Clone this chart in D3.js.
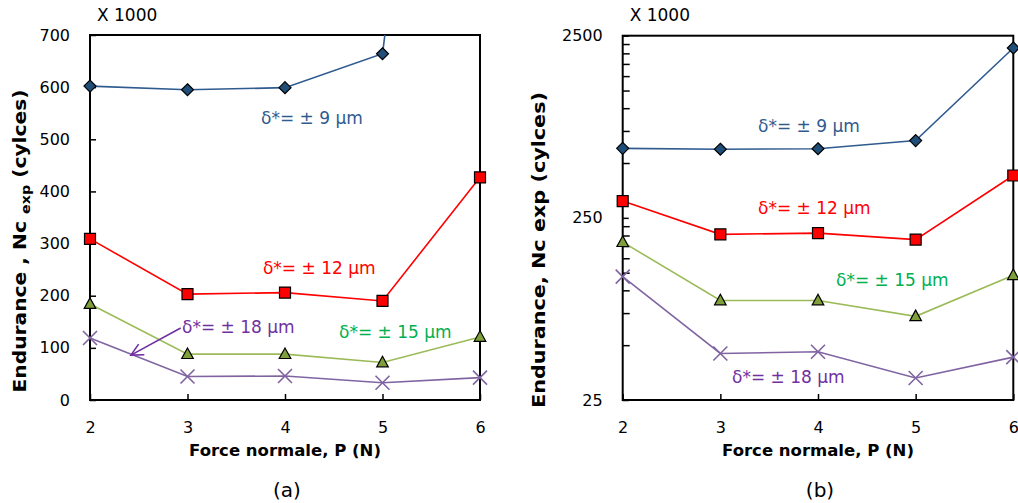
<!DOCTYPE html>
<html><head><meta charset="utf-8">
<script src="https://cdn.jsdelivr.net/npm/d3@7"></script>
<style>
body{margin:0;background:#fff}
svg{display:block}
text{font-family:"DejaVu Sans",sans-serif}
</style>
</head><body>
<svg id="c" width="1018" height="503"></svg>
<script>
// ---- data (x 1000 cycles) ----
const forces = [2, 3, 4, 5, 6];
const nc9  = [602, 595, 599, 664, 2140];
const nc12 = [309, 203, 206, 190, 427];
const nc15 = [184, 88, 88, 72, 121];
const nc18 = [119, 45, 46, 33, 43];
const seriesLabels = ["δ*= ± 9 μm", "δ*= ± 12 μm", "δ*= ± 15 μm", "δ*= ± 18 μm"];
const xTickValues = [2, 3, 4, 5, 6];
const leftTickValues = [0, 100, 200, 300, 400, 500, 600, 700];
const rightTickValues = [25, 250, 2500];
const rightMinorMultipliers = [2, 3, 4, 5, 6, 7, 8, 9];

const svg = d3.select("#c");

const series = [
  {vals: nc9,  line: "#2f5b8f", fill: "#1f4e79", shape: "diamond", text: "#2f5b8f"},
  {vals: nc12, line: "#ff0000", fill: "#ff0000", shape: "square",  text: "#ff0000"},
  {vals: nc15, line: "#9bbb59", fill: "#7f9f3a", shape: "triangle",text: "#00b050"},
  {vals: nc18, line: "#8064a2", fill: "none",    shape: "cross",   text: "#7030a0"}
];

const shapes = {
  diamond: "M0,-6L6,0L0,6L-6,0Z",
  square: "M-5.5,-5.5H5.5V5.5H-5.5Z",
  triangle: "M0,-6.2L5.8,4.4H-5.8Z",
  cross: "M-7,-7L7,7M-7,7L7,-7"
};

svg.append("defs").append("marker")
  .attr("id", "arr").attr("markerUnits", "userSpaceOnUse")
  .attr("viewBox", "-14 -8 16 16").attr("refX", 0).attr("refY", 0)
  .attr("markerWidth", 16).attr("markerHeight", 16).attr("orient", "auto")
  .append("path").attr("d", "M-12,-6L0,0L-12,6")
  .attr("fill", "none").attr("stroke", "#7030a0").attr("stroke-width", 1.6);

function drawChart(cfg) {
  const {x, y, id} = cfg;
  const g = svg.append("g");
  const [x0, x1] = x.range();
  const [yb, yt] = y.range();
  const dom = y.domain();

  g.append("clipPath").attr("id", "clip" + id)
    .append("rect").attr("x", x0 - 10).attr("y", yt).attr("width", x1 - x0 + 20).attr("height", yb - yt);

  // y axis
  const ya = g.append("g").attr("transform", `translate(${x0},0)`)
    .call(d3.axisLeft(y).tickValues(cfg.yTicks).tickFormat(d3.format("d"))
      .tickSizeInner(-6).tickSizeOuter(0).tickPadding(20));
  ya.select(".domain").remove();
  ya.selectAll("line").attr("stroke", "#000").attr("stroke-width", 1.5);
  ya.selectAll("text").attr("font-size", 16).attr("fill", "#000").attr("font-family", "DejaVu Sans");

  if (cfg.minor) {
    const ma = g.append("g").attr("transform", `translate(${x0},0)`)
      .call(d3.axisLeft(y).tickValues(cfg.minor).tickFormat("").tickSizeInner(-7).tickSizeOuter(0));
    ma.select(".domain").remove();
    ma.selectAll("line").attr("stroke", "#000").attr("stroke-width", 1.5);
  }

  // x axis
  const xa = g.append("g").attr("transform", `translate(0,${yb})`)
    .call(d3.axisBottom(x).tickValues(xTickValues).tickFormat(d3.format("d"))
      .tickSizeInner(-6).tickSizeOuter(0).tickPadding(22));
  xa.select(".domain").remove();
  xa.selectAll("line").attr("stroke", "#000").attr("stroke-width", 1.5);
  xa.selectAll("text").attr("font-size", 16).attr("fill", "#000").attr("font-family", "DejaVu Sans");

  // frame
  g.append("rect").attr("x", x0).attr("y", yt).attr("width", x1 - x0).attr("height", yb - yt)
    .attr("fill", "none").attr("stroke", "#000").attr("stroke-width", 2);

  // series
  const line = d3.line().x((d, i) => x(forces[i])).y(d => y(d));
  series.forEach(s => {
    g.append("path").attr("d", line(s.vals)).attr("fill", "none")
      .attr("stroke", s.line).attr("stroke-width", 1.6).attr("clip-path", `url(#clip${id})`);
    g.selectAll(null).data(s.vals.map((v, i) => ({v, f: forces[i]})).filter(d => d.v >= dom[0] && d.v <= dom[1]))
      .join("path")
      .attr("transform", d => `translate(${x(d.f)},${y(d.v)})`)
      .attr("d", shapes[s.shape])
      .attr("fill", s.fill)
      .attr("stroke", s.shape === "cross" ? s.line : "#000")
      .attr("stroke-width", s.shape === "cross" ? 1.6 : 1.2);
  });

  // annotations
  cfg.notes.forEach((n, i) => {
    g.append("text").attr("x", x(n[0])).attr("y", y(n[1])).attr("dy", "0.36em")
      .attr("font-size", 17).attr("fill", series[i].text).text(seriesLabels[i]);
  });
  if (cfg.arrow) {
    const a = cfg.arrow;
    g.append("line").attr("x1", x(a[0])).attr("y1", y(a[1])).attr("x2", x(a[2])).attr("y2", y(a[3]))
      .attr("stroke", "#7030a0").attr("stroke-width", 1.6).attr("marker-end", "url(#arr)");
  }

  // titles
  g.append("text").attr("x", x0 + 7).attr("y", 15).attr("dy", "0.36em")
    .attr("font-size", 17).text("X 1000");
  g.append("text").attr("x", (x0 + x1) / 2).attr("y", 450).attr("dy", "0.36em")
    .attr("text-anchor", "middle").attr("font-weight", "bold").attr("font-size", 16.5)
    .text("Force normale, P (N)");
  g.append("text").attr("x", cfg.capX).attr("y", 490).attr("dy", "0.36em")
    .attr("text-anchor", "middle").attr("font-size", 20).text(cfg.caption);

  const yt2 = g.append("text").attr("transform", `translate(${cfg.yTitleX},${cfg.yTitleY}) rotate(-90)`)
    .attr("text-anchor", "middle").attr("dy", "0.36em").attr("font-weight", "bold").attr("font-size", 17)
    .attr("textLength", cfg.yTitleLen).attr("lengthAdjust", "spacingAndGlyphs");
  if (cfg.sub) {
    yt2.append("tspan").text("Endurance , Nc ");
    yt2.append("tspan").attr("font-size", 12).attr("dy", 4).text("exp");
    yt2.append("tspan").attr("dy", -4).text(" (cylces)");
  } else {
    yt2.text("Endurance, Nc exp (cylces)");
  }
}

drawChart({
  id: "a",
  x: d3.scaleLinear([2, 6], [90, 480]),
  y: d3.scaleLinear([0, 700], [400, 35]),
  yTicks: leftTickValues,
  notes: [[3.754, 541], [3.774, 253], [4.554, 130], [2.944, 140]],
  arrow: [2.93, 138, 2.42, 86],
  capX: 287, caption: "(a)",
  yTitleX: 20, yTitleY: 241, yTitleLen: 303, sub: true
});

const minor = [];
rightTickValues.slice(0, -1).forEach(m => rightMinorMultipliers.forEach(k => minor.push(m * k)));
drawChart({
  id: "b",
  x: d3.scaleLinear([2, 6], [622.7, 1013.3]),
  y: d3.scaleLog([25, 2500], [400, 35.7]),
  yTicks: rightTickValues,
  minor: minor,
  notes: [[3.386, 800], [3.386, 284], [4.185, 114], [3.12, 33.4]],
  arrow: null,
  capX: 820, caption: "(b)",
  yTitleX: 539, yTitleY: 250, yTitleLen: 316, sub: false
});
</script>
</body></html>
